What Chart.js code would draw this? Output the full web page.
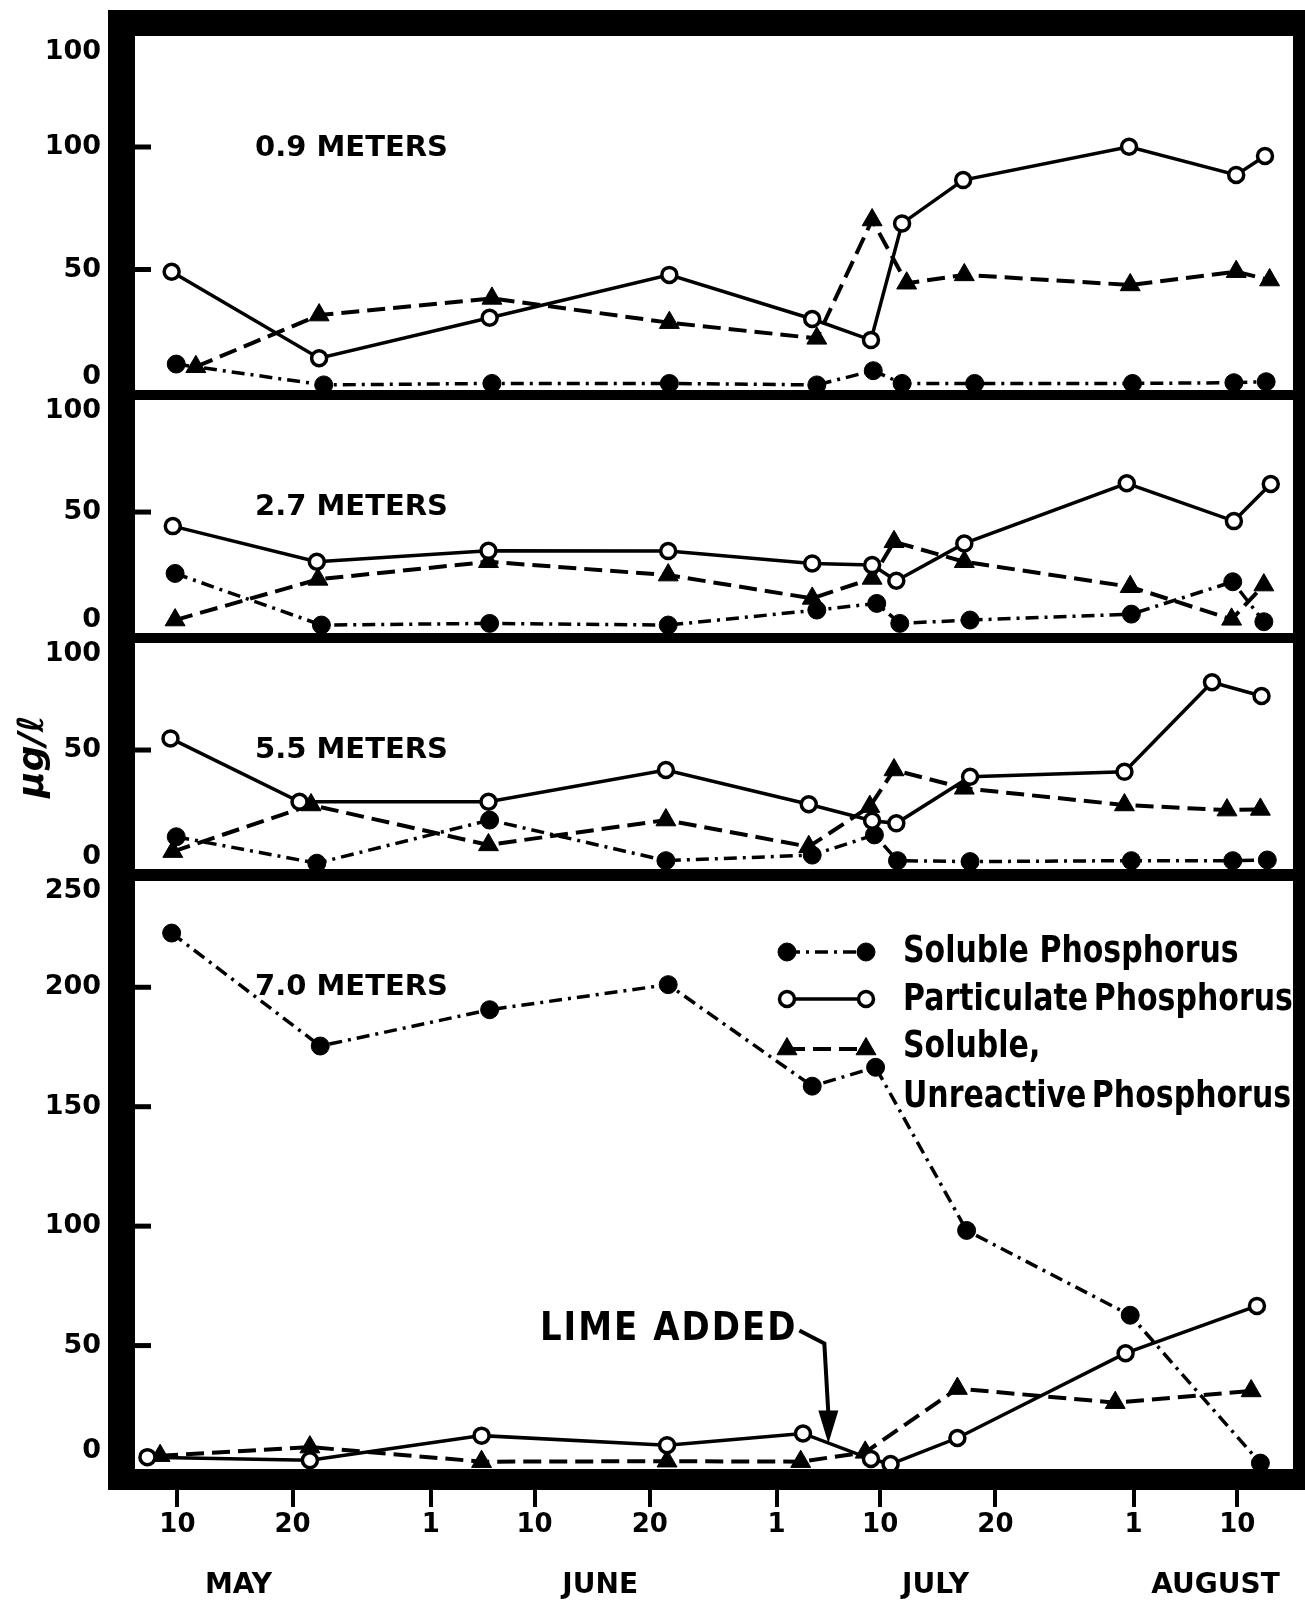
<!DOCTYPE html>
<html lang="en">
<head>
<meta charset="utf-8">
<title>Phosphorus fractions by depth</title>
<script src="https://cdn.jsdelivr.net/npm/chart.js@4.4.1/dist/chart.umd.min.js"></script>
<style>
  html, body { margin: 0; padding: 0; background: #ffffff; }
  #chartBox { width: 1305px; height: 1600px; }
</style>
</head>
<body>
<div id="chartBox"><canvas id="phosphorusChart" width="1305" height="1600"></canvas></div>
<script>
//------------------------------------------------------
// DATA   (x = day of year, y = µg/ℓ)
//------------------------------------------------------

// x axis ticks and month names
const xTickDays   = [130, 140, 152, 161, 171, 182, 191, 201, 213, 222];
const xTickLabels = ["10", "20", "1", "10", "20", "1", "10", "20", "1", "10"];
const monthDays   = [135.3, 166.7, 195.8, 220.1];
const monthNames  = ["MAY", "JUNE", "JULY", "AUGUST"];

// legend text
const legendLines = [["Soluble Phosphorus"], ["Particulate Phosphorus"], ["Soluble,", "Unreactive Phosphorus"]];

// depth panels
const depthNames = ["0.9 METERS", "2.7 METERS", "5.5 METERS", "7.0 METERS"];
const ticks09 = [0, 50, 100, 150];
const tickLabels09 = ["0", "50", "100", "100"];
const ticks27 = [0, 50, 100];
const tickLabels27 = ["0", "50", "100"];
const ticks55 = [0, 50, 100];
const tickLabels55 = ["0", "50", "100"];
const ticks70 = [0, 50, 100, 150, 200, 250];
const tickLabels70 = ["0", "50", "100", "150", "200", "250"];

// 0.9 m
const solubleDays09 = [129.9, 142.7, 157.3, 172.7, 185.5, 190.4, 192.9, 199.2, 212.9, 221.7, 224.5];
const soluble09     = [11.4, 2.9, 3.5, 3.5, 2.9, 8.7, 3.5, 3.5, 3.5, 3.8, 4.2];
const particDays09  = [129.5, 142.3, 157.1, 172.7, 185.1, 190.2, 192.9, 198.2, 212.6, 221.9, 224.4];
const partic09      = [49.1, 13.8, 30.3, 47.8, 29.8, 21.2, 68.8, 86.5, 100.1, 88.6, 96.3];
const unreacDays09  = [131.6, 142.3, 157.3, 172.7, 185.5, 190.3, 193.3, 198.3, 212.7, 221.9, 224.8];
const unreac09      = [10.3, 31.4, 38.2, 28.3, 21.9, 70.2, 44.4, 47.8, 43.7, 49.1, 45.7];

// 2.7 m
const solubleDays27 = [129.8, 142.5, 157.1, 172.6, 185.5, 190.7, 192.7, 198.8, 212.8, 221.6, 224.3];
const soluble27     = [24.2, 2.5, 3.2, 2.5, 8.8, 11.6, 3.2, 4.6, 7.1, 20.7, 3.9];
const particDays27  = [129.6, 142.1, 157.0, 172.6, 185.1, 190.3, 192.4, 198.3, 212.4, 221.7, 224.9];
const partic27      = [44.1, 29.1, 33.7, 33.6, 28.4, 27.7, 21.1, 36.8, 62.1, 46.2, 61.8];
const unreacDays27  = [129.8, 142.2, 157.0, 172.6, 185.1, 190.3, 192.2, 198.3, 212.7, 221.5, 224.3];
const unreac27      = [4.6, 21.7, 29.1, 23.5, 13.7, 22.1, 37.5, 29.1, 18.6, 4.9, 19.3];

// 5.5 m
const solubleDays55 = [129.9, 142.1, 157.1, 172.4, 185.1, 190.5, 192.5, 198.8, 212.8, 221.6, 224.6];
const soluble55     = [12.6, 1.2, 19.8, 2.3, 4.7, 13.4, 2.3, 1.9, 2.3, 2.3, 2.6];
const particDays55  = [129.4, 140.6, 157.0, 172.4, 184.8, 190.3, 192.4, 198.8, 212.2, 219.8, 224.1];
const partic55      = [55.0, 27.7, 27.7, 41.4, 26.6, 19.5, 18.4, 38.5, 40.6, 79.2, 73.3];
const unreacDays55  = [129.6, 141.6, 157.0, 172.4, 184.8, 190.1, 192.2, 198.3, 212.2, 221.1, 224.0];
const unreac55      = [6.2, 26.3, 9.1, 19.8, 8.3, 25.6, 41.4, 33.5, 26.3, 24.1, 24.4];

// 7.0 m
const solubleDays70 = [129.5, 142.4, 157.1, 172.6, 185.1, 190.6, 198.5, 212.7, 224.0];
const soluble70     = [222.7, 175.4, 190.6, 201.1, 158.6, 166.5, 98.2, 62.7, 0.8];
const particDays70  = [127.4, 141.5, 156.4, 172.5, 184.3, 190.2, 191.9, 197.7, 212.3, 223.7];
const partic70      = [3.3, 2.0, 12.3, 8.3, 13.2, 2.5, 0.4, 11.3, 46.8, 66.6];
const unreacDays70  = [128.5, 141.5, 156.4, 172.5, 184.1, 189.7, 197.7, 211.4, 223.2];
const unreac70      = [3.9, 7.5, 1.4, 1.6, 1.4, 5.3, 32.0, 26.1, 31.0];

// lime addition (day of year)
const limeDay = 186.5;

//------------------------------------------------------
// STYLES
//------------------------------------------------------

const solubleStyle = {
    borderColor: "#000", borderWidth: 3.5, borderDash: [13, 6, 3, 6],
    pointStyle: "circle", pointRadius: 9,
    pointBackgroundColor: "#000", pointBorderColor: "#000", pointBorderWidth: 1,
    order: 2
};

const particulateStyle = {
    borderColor: "#000", borderWidth: 3.5, borderDash: [],
    pointStyle: "circle", pointRadius: 7.5,
    pointBackgroundColor: "#fff", pointBorderColor: "#000", pointBorderWidth: 3.5,
    order: 0
};

const unreactiveStyle = {
    borderColor: "#000", borderWidth: 4, borderDash: [18, 8],
    pointStyle: "triangle", pointRadius: 11.5,
    pointBackgroundColor: "#000", pointBorderColor: "#000", pointBorderWidth: 1,
    order: 1
};

const seriesStyles = [solubleStyle, particulateStyle, unreactiveStyle];

const depthAxes = ["y09", "y27", "y55", "y70"];
const depthTicks = [ticks09, ticks27, ticks55, ticks70];
const depthTickLabels = [tickLabels09, tickLabels27, tickLabels55, tickLabels70];

//======================================================
// DATASETS
//======================================================

function makeSeries(days, values, axisId, style){

    return Object.assign({
        data: days.map(function(d, i){ return { x: d, y: values[i] }; }),
        xAxisID: "x",
        yAxisID: axisId,
        fill: false,
        tension: 0
    }, style);

}

const datasets = [
    makeSeries(solubleDays09, soluble09, "y09", solubleStyle),
    makeSeries(particDays09, partic09, "y09", particulateStyle),
    makeSeries(unreacDays09, unreac09, "y09", unreactiveStyle),
    makeSeries(solubleDays27, soluble27, "y27", solubleStyle),
    makeSeries(particDays27, partic27, "y27", particulateStyle),
    makeSeries(unreacDays27, unreac27, "y27", unreactiveStyle),
    makeSeries(solubleDays55, soluble55, "y55", solubleStyle),
    makeSeries(particDays55, partic55, "y55", particulateStyle),
    makeSeries(unreacDays55, unreac55, "y55", unreactiveStyle),
    makeSeries(solubleDays70, soluble70, "y70", solubleStyle),
    makeSeries(particDays70, partic70, "y70", particulateStyle),
    makeSeries(unreacDays70, unreac70, "y70", unreactiveStyle)
];

//======================================================
// MARKER HELPER (legend samples)
//======================================================

function drawMarker(ctx, style, x, y){

    ctx.setLineDash([]);
    ctx.fillStyle = style.pointBackgroundColor;
    ctx.strokeStyle = style.pointBorderColor;
    ctx.lineWidth = style.pointBorderWidth;
    ctx.beginPath();

    if(style.pointStyle === "triangle"){
        const r = style.pointRadius;
        for(let k = 0; k < 3; k++){
            const ang = k * 2 * Math.PI / 3;
            const px = x + Math.sin(ang) * r;
            const py = y - Math.cos(ang) * r;
            if(k === 0) ctx.moveTo(px, py); else ctx.lineTo(px, py);
        }
        ctx.closePath();
    }
    else{
        ctx.arc(x, y, style.pointRadius, 0, Math.PI * 2);
    }

    ctx.fill();
    ctx.stroke();

}

//======================================================
// FRAME, PANEL LABELS, LEGEND, LIME NOTE
//======================================================

const framePlugin = {

    id: "frame",

    afterDatasetsDraw(chart){

        const ctx = chart.ctx;
        const a = chart.chartArea;
        const xs = chart.scales.x;

        ctx.save();
        ctx.fillStyle = "#000";
        ctx.strokeStyle = "#000";

        // heavy outer frame
        ctx.fillRect(a.left - 27, a.top - 26, 27, a.height + 47);
        ctx.fillRect(a.left - 27, a.top - 26, a.width + 39, 26);
        ctx.fillRect(a.right, a.top - 26, 12, a.height + 47);
        ctx.fillRect(a.left - 27, a.bottom, a.width + 39, 21);

        // bars between depth panels
        depthAxes.forEach(function(id, i){
            if(i === 0) return;
            const s = chart.scales[id];
            const h = i === 3 ? 12 : 10;
            ctx.fillRect(a.left, s.top - h / 2, a.width, h);
        });

        // y ticks (inside) and labels (outside)
        ctx.font = "bold 27px 'DejaVu Sans'";
        ctx.textAlign = "right";
        ctx.textBaseline = "middle";
        ctx.lineWidth = 5;

        depthAxes.forEach(function(id, i){
            const s = chart.scales[id];
            depthTicks[i].forEach(function(v, j){
                const py = s.getPixelForValue(v);
                if(py > s.top + 15 && py < s.bottom - 12){
                    ctx.beginPath();
                    ctx.moveTo(a.left, py);
                    ctx.lineTo(a.left + 16, py);
                    ctx.stroke();
                }
                const ly = Math.min(Math.max(py, s.top + 16), s.bottom - 18);
                ctx.fillText(depthTickLabels[i][j], a.left - 34, ly);
            });
        });

        // depth names
        ctx.font = "bold 29px 'DejaVu Sans'";
        ctx.textAlign = "left";
        ctx.textBaseline = "alphabetic";
        depthAxes.forEach(function(id, i){
            const s = chart.scales[id];
            ctx.fillText(depthNames[i], a.left + 120, s.top + 120);
        });

        // legend
        const y70 = chart.scales.y70;
        const lx1 = a.left + 652;
        const lx2 = a.left + 731;
        const tx = a.left + 768;
        const rowY = [77, 124, 174];
        const textY = [[87], [135], [182, 232]];
        const wordGap = ["0px", "-5px", "-5px"];

        seriesStyles.forEach(function(style, i){
            const y = y70.top + rowY[i];
            ctx.save();
            ctx.strokeStyle = "#000";
            ctx.lineWidth = style.borderWidth;
            ctx.setLineDash(style.borderDash);
            ctx.beginPath();
            ctx.moveTo(lx1, y);
            ctx.lineTo(lx2, y);
            ctx.stroke();
            drawMarker(ctx, style, lx1, y);
            drawMarker(ctx, style, lx2, y);
            ctx.restore();

            ctx.save();
            ctx.fillStyle = "#000";
            ctx.font = "bold 30px 'DejaVu Sans'";
            ctx.wordSpacing = wordGap[i];
            legendLines[i].forEach(function(line, k){
                ctx.save();
                ctx.translate(tx, y70.top + textY[i][k]);
                ctx.scale(1, 1.25);
                ctx.fillText(line, 0, 0);
                ctx.restore();
            });
            ctx.restore();
        });

        // lime added note with arrow
        const tipX = xs.getPixelForValue(limeDay);
        const tipY = y70.getPixelForValue(9);

        ctx.save();
        ctx.font = "bold 34px 'DejaVu Sans'";
        ctx.letterSpacing = "2px";
        ctx.textAlign = "right";
        ctx.translate(tipX - 31, tipY - 104);
        ctx.scale(1, 1.15);
        ctx.fillText("LIME ADDED", 0, 0);
        ctx.restore();

        ctx.lineWidth = 4;
        ctx.setLineDash([]);
        ctx.beginPath();
        ctx.moveTo(tipX - 29, tipY - 113);
        ctx.lineTo(tipX - 4, tipY - 100);
        ctx.lineTo(tipX, tipY - 30);
        ctx.stroke();
        ctx.beginPath();
        ctx.moveTo(tipX - 10, tipY - 33);
        ctx.lineTo(tipX + 10, tipY - 33);
        ctx.lineTo(tipX, tipY);
        ctx.closePath();
        ctx.fill();

        ctx.restore();

    }

};

//======================================================
// AXES
//======================================================

function depthAxis(min, max, weight, extra){

    return Object.assign({
        type: "linear",
        position: "left",
        stack: "depth",
        stackWeight: weight,
        min: min,
        max: max,
        ticks: { display: false },
        grid: { display: false },
        border: { display: false },
        afterFit: function(s){ s.width = 135; }
    }, extra || {});

}

Chart.defaults.font.family = "DejaVu Sans";
Chart.defaults.color = "#000";

const X_MIN = 126.32;
const X_MAX = 226.83;

const phosphorusChart = new Chart(document.getElementById("phosphorusChart"), {

    type: "line",

    data: { datasets: datasets },

    options: {

        responsive: false,
        animation: false,
        devicePixelRatio: 1,
        events: [],

        layout: {
            padding: { top: 36, right: 12, bottom: 0, left: 0 },
            autoPadding: false
        },

        plugins: {
            legend: { display: false },
            tooltip: { enabled: false }
        },

        scales: {

            x: {
                type: "linear",
                position: "bottom",
                min: X_MIN,
                max: X_MAX,
                afterBuildTicks: function(s){
                    s.ticks = xTickDays.map(function(d){ return { value: d }; });
                },
                ticks: {
                    callback: function(v, i){ return xTickLabels[i]; },
                    font: { size: 26, weight: "bold" },
                    color: "#000",
                    padding: 3,
                    autoSkip: false,
                    maxRotation: 0,
                    minRotation: 0
                },
                grid: {
                    drawOnChartArea: false,
                    drawTicks: true,
                    tickLength: 38,
                    lineWidth: 4,
                    color: "#000"
                },
                border: { display: false },
                afterFit: function(s){ s.height = 80; }
            },

            month: {
                type: "linear",
                axis: "x",
                position: "bottom",
                min: X_MIN,
                max: X_MAX,
                afterBuildTicks: function(s){
                    s.ticks = monthDays.map(function(d){ return { value: d }; });
                },
                ticks: {
                    callback: function(v, i){ return monthNames[i]; },
                    font: { size: 28, weight: "bold" },
                    color: "#000",
                    padding: 12,
                    autoSkip: false,
                    maxRotation: 0,
                    minRotation: 0
                },
                grid: { display: false },
                border: { display: false },
                afterFit: function(s){ s.height = 51; }
            },

            y70: depthAxis(-1.67, 247.0, 594),

            y55: depthAxis(-3.88, 98.3, 237, {
                title: {
                    display: true,
                    text: "µg/ℓ",
                    color: "#000",
                    font: { size: 36, weight: "bold", style: "italic" },
                    padding: { top: 12, bottom: 0 }
                }
            }),

            y27: depthAxis(-2.94, 99.2, 243),

            y09: depthAxis(-1.22, 145.3, 359)

        }

    },

    plugins: [framePlugin]

});
</script>
</body>
</html>
